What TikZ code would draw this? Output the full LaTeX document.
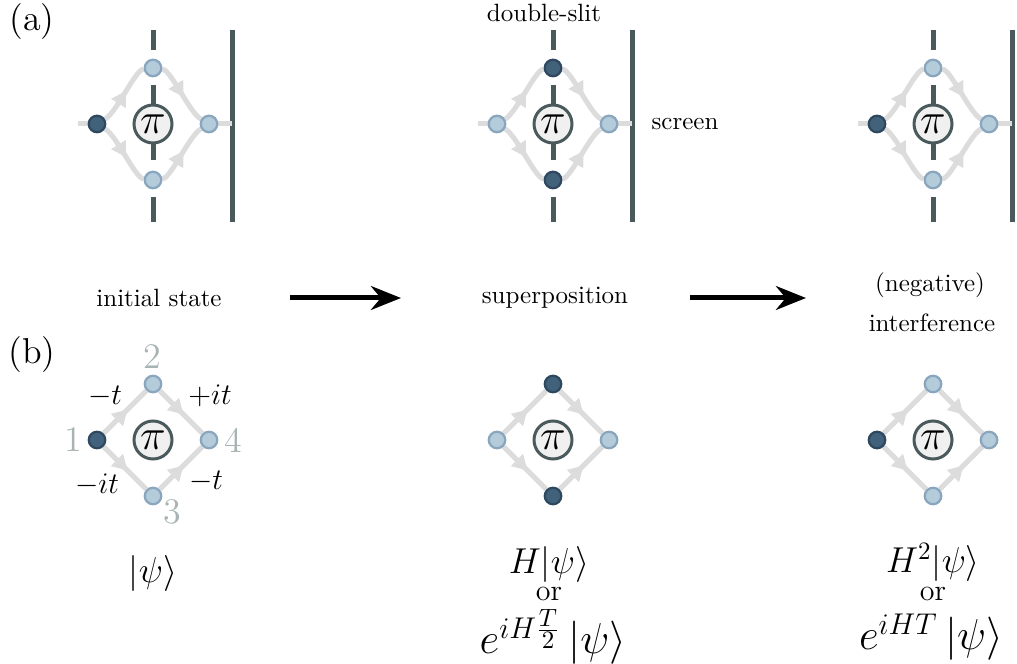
\documentclass[tikz,border=0pt]{standalone}
\usetikzlibrary{arrows.meta,decorations.markings}
\pgfdeclarelayer{bg}
\pgfsetlayers{bg,main}
\definecolor{slitc}{RGB}{74,90,92}
\definecolor{hopc}{RGB}{220,220,220}
\definecolor{lfill}{RGB}{180,203,218}
\definecolor{ldraw}{RGB}{137,166,190}
\definecolor{dfill}{RGB}{66,98,124}
\definecolor{ddraw}{RGB}{46,72,96}
\definecolor{pifill}{RGB}{240,240,240}
\definecolor{numc}{RGB}{168,180,180}
\tikzset{
  lnode/.style={circle,inner sep=0pt,minimum size=6.6pt,fill=lfill,draw=ldraw,line width=0.9pt},
  dnode/.style={circle,inner sep=0pt,minimum size=6.6pt,fill=dfill,draw=ddraw,line width=0.9pt},
  pinode/.style={circle,inner sep=0pt,minimum size=15.2pt,fill=pifill,draw=slitc,line width=1.2pt,font=\LARGE},
  slit/.style={draw=slitc,line width=2pt},
  stub/.style={draw=hopc,line width=2pt},
  hop/.style={draw=hopc,color=hopc,line width=2pt,postaction={decorate},
    decoration={markings,mark=at position 0.56 with {\arrow{Triangle[length=6pt,width=6.5pt]}}}},
  bigarrow/.style={line width=2pt,-{Stealth[length=12pt,width=9.5pt]}},
  numlab/.style={font=\Large,text=numc},
  hoplab/.style={font=\large},
  state/.style={font=\Large,inner sep=0pt},
  bigstate/.style={font=\LARGE,inner sep=0pt},
  ortext/.style={font=\large,inner sep=0pt},
}
\newcommand{\mkpanelA}[6]{%
 \begin{scope}[shift={(#2,124)}]
  \node[#3] (#1-1) at (-56,0) {};
  \node[#4] (#1-2) at (0,-56) {};
  \node[#5] (#1-3) at (0,56) {};
  \node[#6] (#1-4) at (56,0) {};
  \node[pinode] (#1-pi) at (0,0) {$\pi$};
  \coordinate (#1-s) at (-75,0);
  \coordinate (#1-r) at (79,0);
  \coordinate (#1-t) at (79,-94);
  \coordinate (#1-b) at (79,98);
  \coordinate (#1-u1) at (0,-94);
  \coordinate (#1-u2) at (0,-74);
  \coordinate (#1-m1) at (0,-39);
  \coordinate (#1-m2) at (0,36);
  \coordinate (#1-d1) at (0,73);
  \coordinate (#1-d2) at (0,98);
  \begin{pgfonlayer}{bg}
   \draw[slit] (#1-u1) -- (#1-u2) (#1-m1) -- (#1-m2) (#1-d1) -- (#1-d2);
   \draw[slit] (#1-t) -- (#1-b);
   \draw[stub] (#1-s) -- (#1-1.center);
   \draw[stub] (#1-4.center) -- (#1-r);
   \draw[hop] (#1-1) .. controls +(20,-12) and +(-18,2) .. (#1-2);
   \draw[hop] (#1-2) .. controls +(18,2) and +(-20,-12) .. (#1-4);
   \draw[hop] (#1-1) .. controls +(20,12) and +(-18,-2) .. (#1-3);
   \draw[hop] (#1-3) .. controls +(18,-2) and +(-20,12) .. (#1-4);
  \end{pgfonlayer}
 \end{scope}}
\newcommand{\mkpanelB}[6]{%
 \begin{scope}[shift={(#2,440)}]
  \node[#3] (#1-1) at (-56,0) {};
  \node[#4] (#1-2) at (0,-56) {};
  \node[#5] (#1-3) at (0,56) {};
  \node[#6] (#1-4) at (56,0) {};
  \node[pinode] (#1-pi) at (0,0) {$\pi$};
  \begin{pgfonlayer}{bg}
   \draw[hop] (#1-1) -- (#1-2);
   \draw[hop] (#1-2) -- (#1-4);
   \draw[hop] (#1-1) -- (#1-3);
   \draw[hop] (#1-3) -- (#1-4);
  \end{pgfonlayer}
 \end{scope}}
\begin{document}
\begin{tikzpicture}[x=0.4pt,y=-0.4pt]
\useasboundingbox (0,0) rectangle (1017,664);
% panel (a)
\mkpanelA{A1}{153}{dnode}{lnode}{lnode}{lnode}
\mkpanelA{A2}{553}{lnode}{dnode}{dnode}{lnode}
\mkpanelA{A3}{933}{dnode}{lnode}{lnode}{lnode}
% panel (b)
\mkpanelB{B1}{153}{dnode}{lnode}{lnode}{lnode}
\mkpanelB{B2}{553}{lnode}{dnode}{dnode}{lnode}
\mkpanelB{B3}{933}{dnode}{lnode}{lnode}{lnode}
% labels
\node[font=\Large] (la) at (32,22) {(a)};
\node[font=\Large] (lb) at (32,355) {(b)};
\node (ds) at (544,13) {double-slit};
\node (sc) at (685,124) {screen};
\node (is) at (159,298) {initial state};
\node (sp) at (555,298) {superposition};
\node (ng) at (930,285) {(negative)};
\node (inf) at (932,323) {interference};
\coordinate (a1s) at (290,298);
\coordinate (a1e) at (401,298);
\coordinate (a2s) at (690,298);
\coordinate (a2e) at (806,298);
\draw[bigarrow] (a1s) -- (a1e);
\draw[bigarrow] (a2s) -- (a2e);
% hop labels
\node[hoplab] (h12) at (105,397) {$-t$};
\node[hoplab] (h24) at (210,396) {$+it$};
\node[hoplab] (h13) at (97,485) {$-it$};
\node[hoplab] (h34) at (206,482) {$-t$};
\node[numlab] (n1) at (73,440) {1};
\node[numlab] (n2) at (152,357) {2};
\node[numlab] (n4) at (233,440) {4};
\node[numlab] (n3) at (172,512) {3};
% states
\node[state] (s1) at (153,573) {$|\psi\rangle$};
\node[state] (s2a) at (549,564) {$H|\psi\rangle$};
\node[ortext] (s2b) at (549,594) {or};
\node[bigstate] (s2c) at (553,637) {$e^{iH\frac{T}{2}}\left|\psi\right\rangle$};
\node[state] (s3a) at (933,562) {$H^2|\psi\rangle$};
\node[ortext] (s3b) at (933,594) {or};
\node[bigstate] (s3c) at (931,637) {$e^{iHT}\left|\psi\right\rangle$};
\end{tikzpicture}
\end{document}
